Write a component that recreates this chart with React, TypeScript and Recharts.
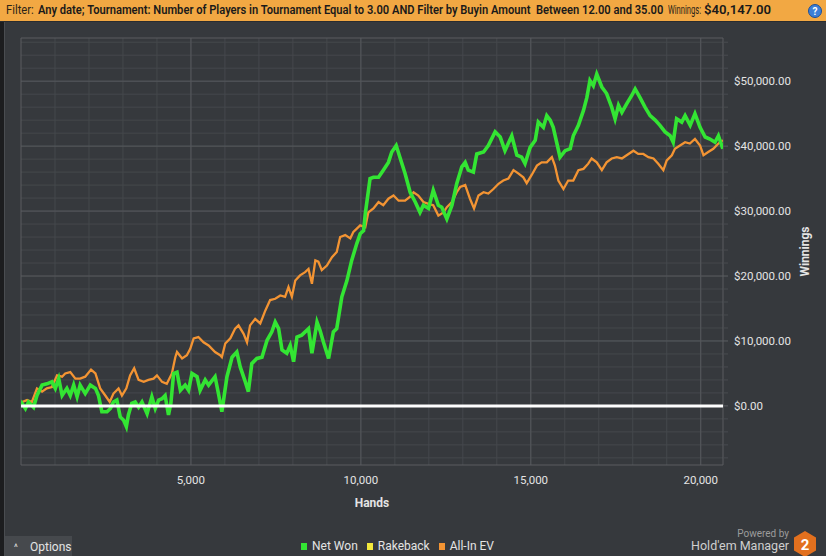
import { useLayoutEffect, useRef, useState } from "react";
import { LineChart, Line, XAxis, YAxis, CartesianGrid, ReferenceLine, ReferenceArea, Label } from "recharts";

// [hands, winnings in $]
const netWon: [number, number][] = [
  [0, 0], [30, 400], [130, -400], [220, 600], [370, -200], [470, 1600], [620, 3200], [760, 3400], [910, 3700], [1010, 2700],
  [1110, 4200], [1210, 1600], [1350, 2700], [1450, 1600], [1550, 3200], [1650, 1400], [1740, 3200], [1890, 1900], [2040, 3200], [2190, 2700],
  [2280, 1600], [2380, -900], [2530, -900], [2630, -400], [2720, 600], [2820, 900], [2920, -1700], [3020, -2200], [3100, -3200], [3160, -1400],
  [3260, 400], [3360, 600], [3460, -200], [3560, 600], [3710, -1200], [3850, 1400], [3950, -400], [4050, 900], [4150, 1100], [4240, 1600],
  [4340, -1400], [4410, 400], [4490, 5000], [4590, 5200], [4690, 2400], [4830, 3200], [4930, 2400], [5030, 5000], [5180, 4500], [5270, 2400],
  [5420, 4000], [5520, 3200], [5710, 4500], [5810, 1900], [5910, -900], [6060, 4500], [6210, 7500], [6350, 8300], [6450, 6000], [6600, 3700],
  [6690, 2200], [6790, 6500], [6940, 7300], [7090, 7500], [7240, 10100], [7380, 11400], [7480, 12900], [7580, 11900], [7680, 8600], [7820, 8100],
  [7920, 9300], [8020, 6800], [8120, 10600], [8260, 10900], [8460, 11900], [8560, 8100], [8710, 12900], [8800, 11600], [8900, 9800], [9050, 7300],
  [9190, 11400], [9290, 11900], [9440, 16800], [9590, 19300], [9730, 22400], [9880, 25000], [9980, 26500], [10080, 27000], [10130, 29600], [10270, 35000],
  [10370, 35200], [10520, 35200], [10660, 36300], [10810, 37500], [10910, 39100], [11040, 40100], [11160, 38100], [11300, 35800], [11450, 32900], [11600, 31400],
  [11740, 29800], [11840, 30900], [11990, 30400], [12130, 33200], [12280, 30900], [12380, 30600], [12530, 28800], [12680, 30900], [12820, 34200], [12970, 36800],
  [13070, 37500], [13160, 36300], [13310, 36000], [13410, 38800], [13610, 39100], [13750, 40100], [13950, 42200], [14100, 41400], [14240, 39300], [14440, 41600],
  [14590, 38600], [14730, 38300], [14830, 37300], [14980, 39800], [15130, 40900], [15220, 43700], [15370, 42900], [15470, 44700], [15570, 44000], [15660, 42900],
  [15760, 40600], [15860, 38300], [16010, 39300], [16160, 39600], [16250, 41600], [16400, 43200], [16550, 45500], [16650, 47500], [16740, 50100], [16840, 49300],
  [16940, 51100], [17090, 49100], [17230, 48100], [17380, 46000], [17480, 44200], [17580, 46300], [17680, 45200], [17820, 46500], [17970, 47800], [18070, 48800],
  [18210, 47500], [18360, 46000], [18510, 44700], [18660, 44000], [18800, 43200], [18950, 42200], [19100, 41600], [19190, 40600], [19290, 44200], [19440, 43700],
  [19540, 44700], [19690, 43200], [19830, 45000], [19980, 42900], [20130, 41400], [20270, 41100], [20420, 40600], [20520, 41600], [20650, 39600],
];

const allInEv: [number, number][] = [
  [0, 0], [30, 600], [180, 900], [320, 600], [470, 2700], [620, 2200], [760, 2700], [910, 2900], [1060, 4700], [1210, 4500],
  [1300, 5000], [1450, 5200], [1600, 4200], [1740, 4200], [1890, 4500], [2060, 5600], [2190, 5000], [2330, 2700], [2480, 1600], [2610, 600],
  [2720, 1900], [2870, 2700], [2970, 1600], [3100, 2700], [3210, 4700], [3330, 5800], [3460, 4000], [3610, 3700], [3750, 4000], [3900, 4200],
  [4000, 4700], [4150, 3700], [4290, 3400], [4440, 5000], [4540, 7500], [4590, 8300], [4740, 7300], [4880, 7800], [4980, 8800], [5080, 10400],
  [5220, 10600], [5370, 9800], [5520, 9300], [5710, 8300], [5860, 7800], [5910, 7500], [6010, 9600], [6160, 10400], [6300, 11900], [6400, 12400],
  [6550, 11100], [6650, 9800], [6740, 12400], [6890, 13400], [7040, 12700], [7190, 14700], [7330, 16300], [7480, 16500], [7630, 17000], [7770, 16800],
  [7870, 18300], [7970, 16800], [8070, 19300], [8210, 20100], [8360, 20600], [8460, 21100], [8560, 18800], [8660, 22400], [8750, 22200], [8850, 20900],
  [9000, 21600], [9150, 22900], [9290, 23700], [9390, 26000], [9540, 26300], [9690, 25800], [9780, 26800], [9980, 27800], [10130, 27500], [10220, 29800],
  [10370, 30400], [10520, 31400], [10660, 30900], [10810, 31900], [10960, 32400], [11110, 31600], [11300, 31600], [11450, 32200], [11550, 32900], [11690, 32400],
  [11840, 31400], [11990, 31100], [12130, 30900], [12280, 29300], [12430, 29800], [12530, 30600], [12680, 31400], [12820, 32900], [12920, 33700], [13070, 34000],
  [13210, 31900], [13330, 30400], [13460, 32400], [13610, 32900], [13750, 32700], [13900, 33400], [14050, 34200], [14190, 34700], [14340, 35000], [14490, 36300],
  [14630, 35800], [14780, 35200], [14880, 34300], [15030, 35600], [15180, 37000], [15320, 37500], [15470, 37500], [15620, 38300], [15710, 37000], [15810, 34700],
  [15960, 33400], [16100, 34700], [16250, 34700], [16400, 36300], [16550, 36500], [16690, 37300], [16790, 38100], [16940, 37500], [17090, 36300], [17230, 37500],
  [17380, 38100], [17530, 38300], [17680, 38100], [17820, 38600], [18020, 39300], [18160, 38800], [18310, 38800], [18460, 38300], [18610, 38100], [18750, 37300],
  [18900, 36300], [19000, 37800], [19150, 38600], [19240, 39600], [19390, 40100], [19540, 40600], [19680, 40400], [19830, 41100], [19980, 40100], [20080, 38600],
  [20220, 39100], [20370, 39600], [20520, 40400], [20650, 40900],
];

const handLabels = [5000, 10000, 15000, 20000];
const winningsLabels = [0, 10000, 20000, 30000, 40000, 50000];
const handsDomain = [0, 20655];
const winningsDomain = [-9100, 56650];

const legendItems = [
  { name: "Net Won", color: "#33e533" },
  { name: "Rakeback", color: "#f2e93c" },
  { name: "All-In EV", color: "#f39433" },
];

const filterText =
  "Any date; Tournament: Number of Players in Tournament Equal to 3.00 AND Filter by Buyin Amount  Between 12.00 and 35.00";
const totalWinnings = "$40,147.00";

// minor grid every 1,000 hands / $2,000
const minorHands = Array.from({ length: 20 }, (_, i) => (i + 1) * 1000);
const minorWinnings = Array.from({ length: 33 }, (_, i) => -8000 + i * 2000);

const FONT = "Roboto, 'Open Sans', sans-serif";
const TEXT = "#e4e4e4";

const toRows = (pts: [number, number][]) => pts.map(([hands, value]) => ({ hands, value }));

// squeezes a line of text horizontally so it spans exactly `width` px
function FitText({ left, width, style, children }: any) {
  const ref = useRef<HTMLSpanElement>(null);
  const [scale, setScale] = useState(1);
  useLayoutEffect(() => {
    if (ref.current && ref.current.offsetWidth) setScale(width / ref.current.offsetWidth);
  }, [width]);
  return (
    <span
      ref={ref}
      style={{
        position: "absolute",
        left,
        top: 0,
        lineHeight: "21px",
        fontSize: 12,
        whiteSpace: "pre",
        transform: `scaleX(${scale})`,
        transformOrigin: "left center",
        ...style,
      }}
    >
      {children}
    </span>
  );
}

function WinningsTick({ x, y, payload }: any) {
  const major = payload.value % 10000 === 0;
  return (
    <g>
      <line x1={x - 11} x2={x - 6} y1={y} y2={y} stroke={major ? "#5c5f63" : "#494c50"} />
      {major && (
        <text x={x} y={y} dy={4} fill={TEXT} fontSize={11.5} fontFamily={FONT}>
          {"$" + payload.value.toLocaleString("en-US", { minimumFractionDigits: 2 })}
        </text>
      )}
    </g>
  );
}

function HandsTick({ x, y, payload }: any) {
  return (
    <text x={x} y={y} dy={9} textAnchor="middle" fill={TEXT} fontSize={11.5} fontFamily={FONT}>
      {payload.value.toLocaleString("en-US")}
    </text>
  );
}

export default function App() {
  return (
    <div
      style={{
        position: "fixed",
        left: 0,
        top: 0,
        width: 826,
        height: 556,
        background: "#36393d",
        overflow: "hidden",
        fontFamily: FONT,
      }}
    >
      <LineChart width={826} height={556} margin={{ top: 38, right: 0, bottom: 0, left: 21 }}>
        <CartesianGrid stroke="#45484c" horizontalValues={minorWinnings} verticalValues={minorHands} />
        <CartesianGrid stroke="#55585c" horizontalValues={winningsLabels} verticalValues={handLabels} />
        <ReferenceArea
          x1={handsDomain[0]}
          x2={handsDomain[1]}
          y1={winningsDomain[0]}
          y2={winningsDomain[1]}
          fill="none"
          stroke="#5a5d61"
          ifOverflow="visible"
        />
        <XAxis
          dataKey="hands"
          type="number"
          domain={handsDomain}
          allowDataOverflow
          ticks={handLabels}
          interval={0}
          height={91}
          axisLine={false}
          tickLine={false}
          tickSize={0}
          tickMargin={10}
          tick={<HandsTick />}
        >
          <Label
            content={({ viewBox }: any) => (
              <text
                x={viewBox.x + viewBox.width / 2}
                y={507}
                textAnchor="middle"
                fill={TEXT}
                fontSize={12}
                fontWeight={700}
                fontFamily={FONT}
              >
                Hands
              </text>
            )}
          />
        </XAxis>
        <YAxis
          orientation="right"
          type="number"
          domain={winningsDomain}
          allowDataOverflow
          ticks={minorWinnings}
          interval={0}
          width={103}
          axisLine={false}
          tickLine={false}
          tickSize={5}
          tickMargin={6}
          tick={<WinningsTick />}
        >
          <Label
            content={({ viewBox }: any) => {
              const cy = viewBox.y + viewBox.height / 2;
              return (
                <text
                  x={805}
                  y={cy}
                  transform={`rotate(-90 805 ${cy})`}
                  textAnchor="middle"
                  dominantBaseline="central"
                  fill={TEXT}
                  fontSize={12}
                  fontWeight={700}
                  fontFamily={FONT}
                >
                  Winnings
                </text>
              );
            }}
          />
        </YAxis>
        <Line
          data={toRows(allInEv)}
          dataKey="value"
          name="All-In EV"
          stroke={legendItems[2].color}
          strokeWidth={2.3}
          dot={false}
          isAnimationActive={false}
        />
        <Line
          data={toRows(netWon)}
          dataKey="value"
          name="Net Won"
          stroke={legendItems[0].color}
          strokeWidth={3.6}
          dot={false}
          isAnimationActive={false}
        />
        <ReferenceLine y={0} stroke="#ffffff" strokeWidth={3} />
      </LineChart>

      {/* filter bar */}
      <div style={{ position: "absolute", left: 0, top: 0, width: 826, height: 21, background: "#f2a843", color: "#1a1a1a" }}>
        <FitText left={6} width={28} style={{ color: "#2c2418" }}>
          Filter:
        </FitText>
        <FitText left={38} width={625} style={{ fontWeight: 600 }}>
          {filterText}
        </FitText>
        <FitText left={668} width={33} style={{ color: "#2c2418" }}>
          Winnings:
        </FitText>
        <FitText left={704} width={67} style={{ fontWeight: 600 }}>
          {totalWinnings}
        </FitText>
        <svg width={16} height={16} style={{ position: "absolute", left: 807, top: 3 }}>
          <circle cx={8} cy={8} r={6.5} fill="#3d7fd6" stroke="#1f4f96" />
          <text x={8} y={11.5} textAnchor="middle" fontSize={10} fontWeight={700} fill="#fff" fontFamily={FONT}>
            ?
          </text>
        </svg>
      </div>
      <div style={{ position: "absolute", left: 0, top: 21, width: 826, height: 1, background: "#2a2c2f" }} />

      {/* left frame strip */}
      <div style={{ position: "absolute", left: 0, top: 22, width: 4, height: 534, background: "#1c1d1f" }} />
      <div style={{ position: "absolute", left: 4, top: 22, width: 1, height: 534, background: "#4a4d51" }} />

      {/* options button */}
      <div
        style={{
          position: "absolute",
          left: 5,
          top: 536,
          width: 67,
          height: 20,
          background: "#46494d",
          color: TEXT,
          fontSize: 12,
          lineHeight: "22px",
        }}
      >
        <span style={{ position: "absolute", left: 9, fontSize: 9 }}>^</span>
        <span style={{ position: "absolute", left: 25 }}>Options</span>
      </div>

      {/* legend */}
      <div
        style={{
          position: "absolute",
          left: 301,
          top: 539,
          display: "flex",
          alignItems: "center",
          color: TEXT,
          fontSize: 12,
          lineHeight: "14px",
        }}
      >
        {legendItems.map((item) => (
          <div key={item.name} style={{ display: "flex", alignItems: "center", marginRight: 9 }}>
            <span style={{ width: 6, height: 7, background: item.color, marginRight: 5 }} />
            <span>{item.name}</span>
          </div>
        ))}
      </div>

      {/* brand */}
      <svg width={140} height={36} style={{ position: "absolute", left: 686, top: 520 }}>
        <text x={103} y={17} textAnchor="end" fontSize={10} fill="#9c9c9c" fontFamily={FONT}>
          Powered by
        </text>
        <text x={103} y={30} textAnchor="end" fontSize={12.5} fill="#cfcfcf" fontFamily={FONT}>
          Hold'em Manager
        </text>
        <polygon points="119,11 130,17.5 130,30.5 119,37 108,30.5 108,17.5" fill="#e2701e" />
        <text x={119} y={30} textAnchor="middle" fontSize={15} fontWeight={700} fill="#fff" fontFamily={FONT}>
          2
        </text>
      </svg>
    </div>
  );
}
